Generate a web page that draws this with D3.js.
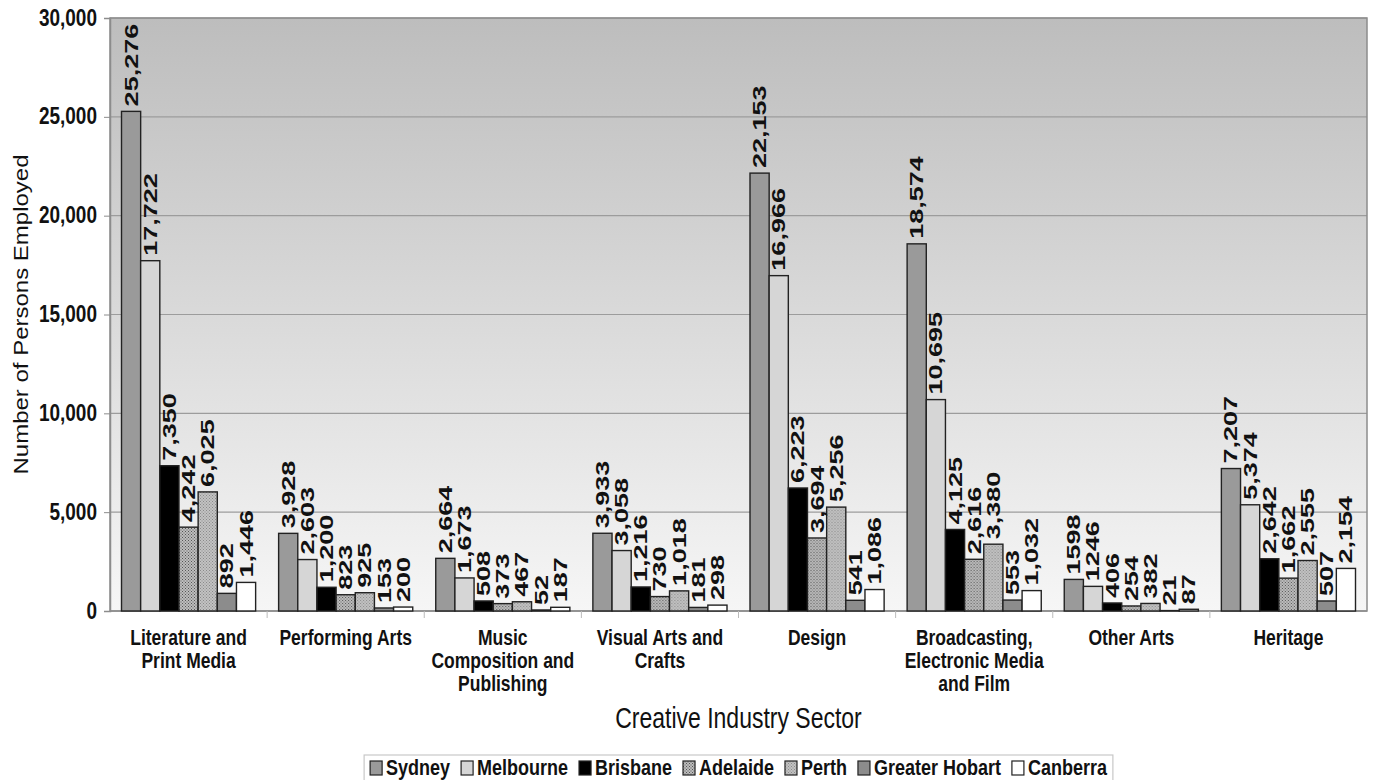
<!DOCTYPE html>
<html>
<head>
<meta charset="utf-8">
<script src="https://cdn.jsdelivr.net/npm/d3@7"></script>
<style>
  html, body { margin: 0; padding: 0; background: #fff; }
  svg { display: block; font-family: Arial, "Liberation Sans", sans-serif; }
</style>
</head>
<body>
<svg id="chart" width="1375" height="780"></svg>
<script>
// Creative industry employment by capital city
const sectors = [
  "Literature and\nPrint Media",
  "Performing Arts",
  "Music\nComposition and\nPublishing",
  "Visual Arts and\nCrafts",
  "Design",
  "Broadcasting,\nElectronic Media\nand Film",
  "Other Arts",
  "Heritage"
];
const cities = ["Sydney", "Melbourne", "Brisbane", "Adelaide", "Perth", "Greater Hobart", "Canberra"];

const sydney        = [25276, 3928, 2664, 3933, 22153, 18574, 1598, 7207];
const melbourne     = [17722, 2603, 1673, 3058, 16966, 10695, 1246, 5374];
const brisbane      = [7350, 1200, 508, 1216, 6223, 4125, 406, 2642];
const adelaide      = [4242, 823, 373, 730, 3694, 2616, 254, 1662];
const perth         = [6025, 925, 467, 1018, 5256, 3380, 382, 2555];
const greaterHobart = [892, 153, 52, 181, 541, 553, 21, 507];
const canberra      = [1446, 200, 187, 298, 1086, 1032, 87, 2154];

const yTicks = [0, 5000, 10000, 15000, 20000, 25000, 30000];
// sectors whose value labels are printed without thousands separators
const plainLabelSectors = ["Other Arts"];

const seriesValues = [sydney, melbourne, brisbane, adelaide, perth, greaterHobart, canberra];

const svg = d3.select("#chart");
const defs = svg.append("defs");

const plot = { left: 110, right: 1367, top: 18, bottom: 611 };
// lettering is drawn taller than it is wide
const TALL = 1.25;
const LABEL_TALL = 1.5;

// plot-area background gradient
const grad = defs.append("linearGradient").attr("id", "bg").attr("x1", 0).attr("y1", 0).attr("x2", 0).attr("y2", 1);
grad.append("stop").attr("offset", "0%").attr("stop-color", "#bdbdbd");
grad.append("stop").attr("offset", "100%").attr("stop-color", "#f6f6f6");

// fine dotted fills
function checker(id, a, b) {
  const p = defs.append("pattern").attr("id", id).attr("patternUnits", "userSpaceOnUse")
    .attr("width", 3).attr("height", 3);
  p.append("rect").attr("width", 3).attr("height", 3).attr("fill", b);
  p.append("rect").attr("x", 0).attr("y", 0).attr("width", 1).attr("height", 1).attr("fill", a);
  p.append("rect").attr("x", 1.5).attr("y", 1.5).attr("width", 1).attr("height", 1).attr("fill", a);
}
checker("adelaidePat", "#555", "#bdbdbd");
checker("perthPat", "#8a8a8a", "#c2c2c2");

const fills = ["#9a9a9a", "#d6d6d6", "#000000", "url(#adelaidePat)", "url(#perthPat)", "#8c8c8c", "#ffffff"];

const x0 = d3.scaleBand().domain(sectors).range([plot.left, plot.right]).padding(0);
const x1 = d3.scaleBand().domain(cities).range([0, x0.bandwidth()]).paddingInner(0).paddingOuter(0.6);
const y = d3.scaleLinear().domain([0, 30000]).range([plot.bottom, plot.top]);

// background
svg.append("rect")
  .attr("x", plot.left).attr("y", plot.top)
  .attr("width", plot.right - plot.left).attr("height", plot.bottom - plot.top)
  .attr("fill", "url(#bg)");

// gridlines
svg.append("g").selectAll("line").data(yTicks.filter(d => d > 0)).join("line")
  .attr("x1", plot.left).attr("x2", plot.right)
  .attr("y1", d => y(d)).attr("y2", d => y(d))
  .attr("stroke", "#9c9c9c").attr("stroke-width", 1.2);

// plot border
svg.append("rect")
  .attr("x", plot.left).attr("y", plot.top)
  .attr("width", plot.right - plot.left).attr("height", plot.bottom - plot.top)
  .attr("fill", "none").attr("stroke", "#8c8c8c").attr("stroke-width", 1.5);

// y axis
const yAxis = d3.axisLeft(y).tickValues(yTicks).tickFormat(d3.format(",")).tickSize(6).tickPadding(7);
const gy = svg.append("g").attr("transform", `translate(${plot.left},0)`).call(yAxis);
gy.select(".domain").attr("stroke", "#8c8c8c").attr("stroke-width", 1.5);
gy.selectAll(".tick line").attr("stroke", "#8c8c8c");
gy.selectAll(".tick text")
  .attr("font-size", 19).attr("font-weight", "bold").attr("fill", "#111")
  .attr("font-family", "Arial, 'Liberation Sans', sans-serif")
  .attr("x", null).attr("dy", null).attr("y", 0)
  .attr("transform", `translate(-13,7) scale(1,${TALL})`);

// x axis with ticks between sectors
const gx = svg.append("g").attr("transform", `translate(0,${plot.bottom})`);
gx.append("line").attr("x1", plot.left).attr("x2", plot.right).attr("stroke", "#8c8c8c").attr("stroke-width", 1.5);
gx.selectAll("line.sep").data(sectors.slice(1)).join("line").attr("class", "sep")
  .attr("x1", d => x0(d)).attr("x2", d => x0(d)).attr("y1", 0).attr("y2", 7)
  .attr("stroke", "#bbb");

// category labels
const catG = svg.append("g");
sectors.forEach(s => {
  const cxp = x0(s) + x0.bandwidth() / 2;
  s.split("\n").forEach((l, i) => {
    catG.append("text")
      .attr("transform", `translate(${cxp},${645 + i * 23}) scale(1,${TALL})`)
      .attr("text-anchor", "middle").attr("font-size", 17.5).attr("font-weight", "bold").attr("fill", "#111")
      .text(l);
  });
});

// bars
const groups = svg.append("g").selectAll("g").data(sectors).join("g")
  .attr("transform", d => `translate(${x0(d)},0)`);

const commaFmt = d3.format(",");
groups.each(function(s, si) {
  const g = d3.select(this);
  const rows = cities.map((c, ci) => ({ city: c, ci, value: seriesValues[ci][si] }));
  g.selectAll("rect").data(rows).join("rect")
    .attr("x", d => x1(d.city))
    .attr("y", d => y(d.value))
    .attr("width", x1.bandwidth())
    .attr("height", d => y(0) - y(d.value))
    .attr("fill", d => fills[d.ci])
    .attr("stroke", "#222").attr("stroke-width", 1.4);
  g.selectAll("text").data(rows).join("text")
    .attr("transform", d => `translate(${x1(d.city) + x1.bandwidth() / 2 + 6.5},${y(d.value) - 5}) rotate(-90) scale(${LABEL_TALL},1)`)
    .attr("text-anchor", "start")
    .attr("font-size", 18).attr("font-weight", "bold").attr("fill", "#111")
    .text(d => plainLabelSectors.includes(s) ? String(d.value) : commaFmt(d.value));
});

// axis titles
svg.append("text")
  .attr("transform", `translate(28,${(plot.top + plot.bottom) / 2}) rotate(-90) scale(1.2,1)`)
  .attr("text-anchor", "middle").attr("font-size", 20).attr("fill", "#111")
  .text("Number of Persons Employed");
svg.append("text")
  .attr("transform", `translate(${(plot.left + plot.right) / 2},728) scale(1,${TALL})`)
  .attr("text-anchor", "middle").attr("font-size", 23).attr("fill", "#111")
  .text("Creative Industry Sector");

// legend
const legend = svg.append("g");
const box = legend.append("rect").attr("fill", "#fff").attr("stroke", "#c8c8c8").attr("stroke-width", 1.2);
let cx = 0;
const items = [];
cities.forEach((c, i) => {
  const it = legend.append("g");
  it.append("rect").attr("x", 0).attr("y", -14).attr("width", 12).attr("height", 14)
    .attr("fill", fills[i]).attr("stroke", "#222").attr("stroke-width", 1.2);
  const t = it.append("text").attr("transform", `translate(16,0) scale(1,${TALL})`)
    .attr("font-size", 18).attr("font-weight", "bold").attr("fill", "#111").text(c);
  const w = 16 + t.node().getComputedTextLength();
  items.push({ it, x: cx });
  cx += w + 11;
});
const total = cx - 11;
const lx = (plot.left + plot.right) / 2 - total / 2;
items.forEach(d => d.it.attr("transform", `translate(${lx + d.x},775)`));
box.attr("x", lx - 6).attr("y", 755).attr("width", total + 12).attr("height", 30);
</script>
</body>
</html>
